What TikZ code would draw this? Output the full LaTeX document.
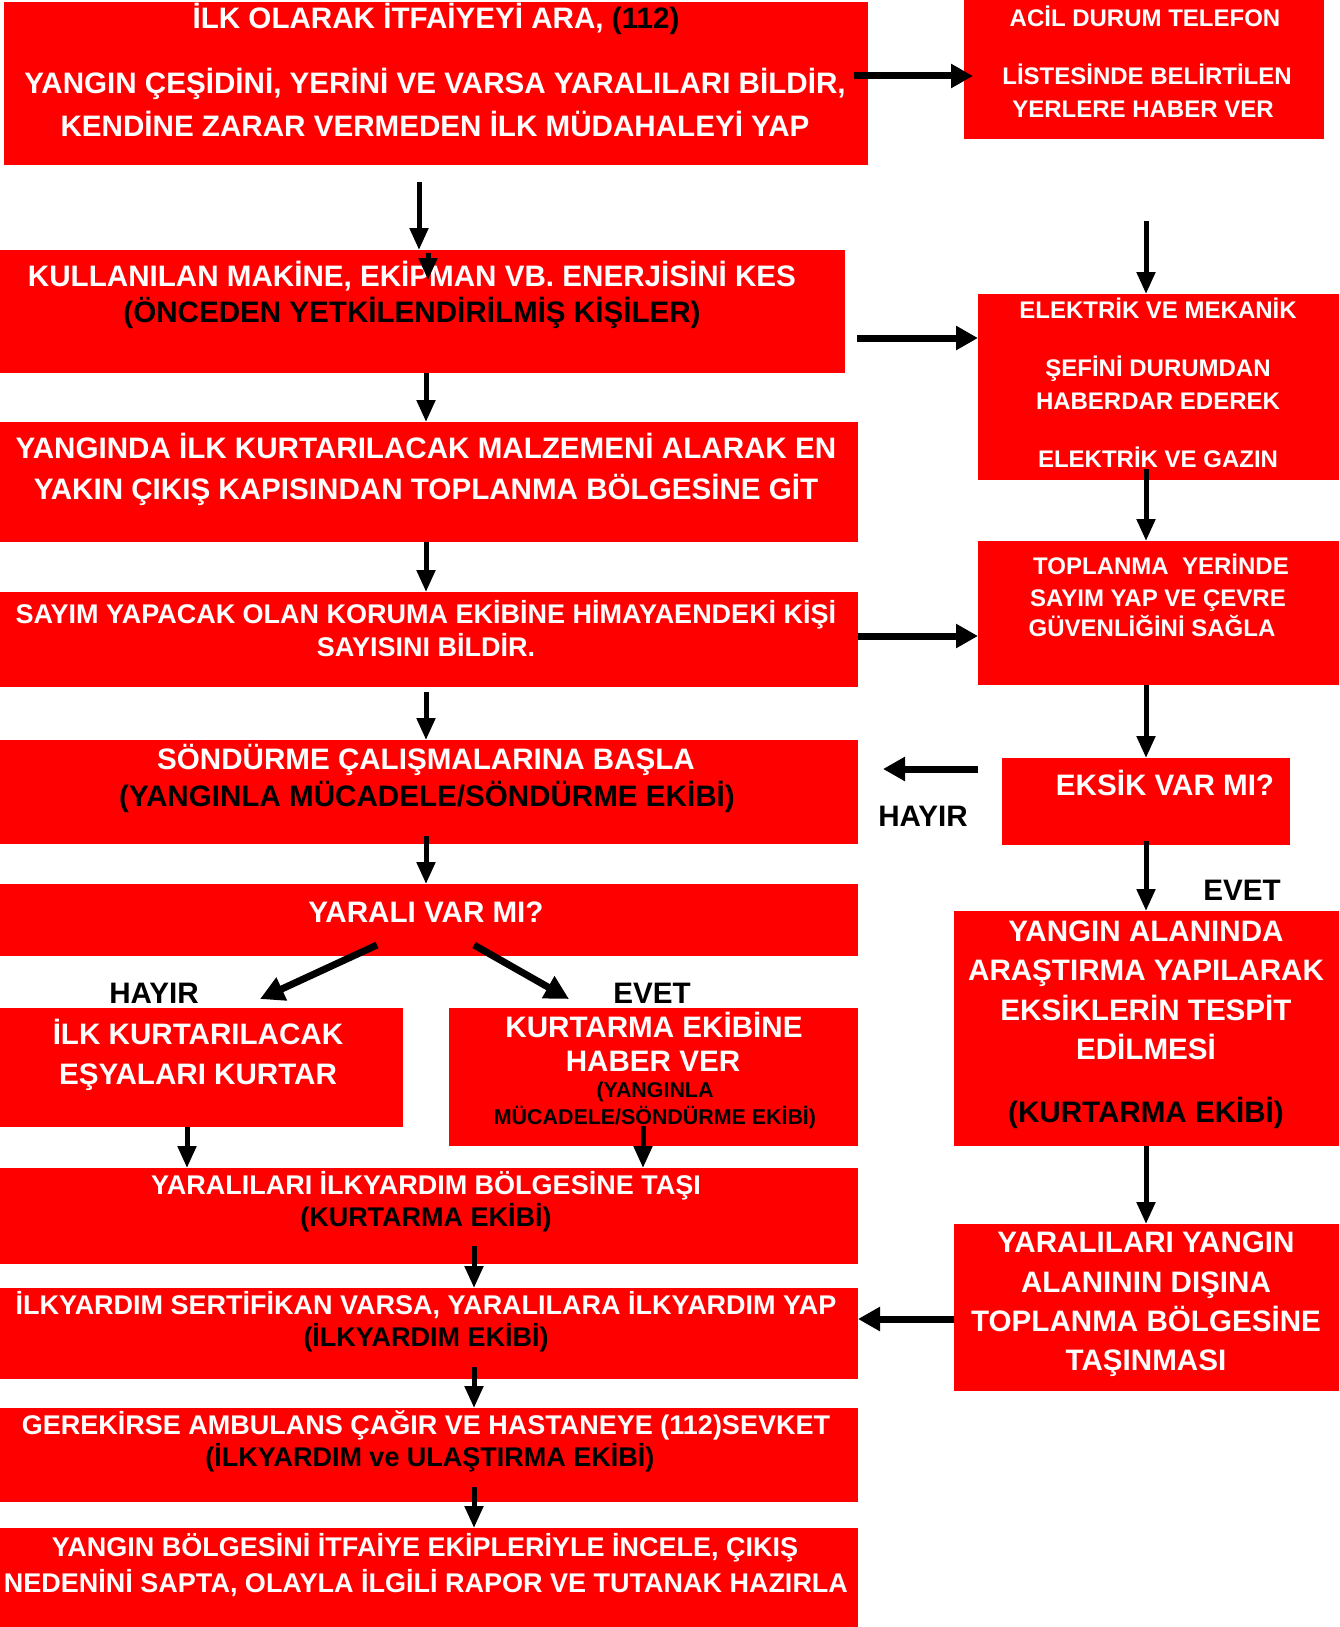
\documentclass[tikz,border=0pt]{standalone}
\usepackage{fontspec}
\setmainfont{Liberation Sans}
\usetikzlibrary{arrows.meta,fit}

\definecolor{boxred}{HTML}{FF0000}

% font sizes (1px = 0.5pt)
\newcommand{\fbig}{\fontsize{14.8}{17}\selectfont}
\newcommand{\fmid}{\fontsize{13.5}{16}\selectfont}
\newcommand{\fsml}{\fontsize{12}{14}\selectfont}
\newcommand{\ftny}{\fontsize{10.7}{13}\selectfont}

\begin{document}
\begin{tikzpicture}[x=0.5pt, y=-0.5pt,
    box/.style={fill=boxred, inner sep=0pt, outer sep=0pt},
    txt/.style={anchor=base, inner sep=0pt, text=white, font=\bfseries\fbig},
    blk/.style={txt, text=black},
    mid/.style={font=\bfseries\fmid},
    sml/.style={font=\bfseries\fsml},
    tny/.style={font=\bfseries\ftny},
    varr/.style={-{Triangle[width=9pt,length=11pt]}, line width=2.5pt},
    harr/.style={-{Triangle[width=11.5pt,length=11pt]}, line width=3.5pt},
    darr/.style={-{Triangle[width=12pt,length=12pt]}, line width=3.5pt}]

\useasboundingbox (0,0) rectangle (1339,1627);

% boxes, right side
\node[box, fit={(4,2) (868,165)}] (ara) {};
\node[box, fit={(964,0) (1324,139)}] (acil) {};
\node[box, fit={(978,294) (1339,480)}] (sef) {};
\node[box, fit={(978,541) (1339,685)}] (toplan) {};
\node[box, fit={(1002,758) (1290,845)}] (eksik) {};
\node[box, fit={(954,911) (1339,1146)}] (arastir) {};
\node[box, fit={(954,1224) (1339,1391)}] (tasin) {};

% boxes, left column
\node[box, fit={(0,250) (845,373)}] (kes) {};
\node[box, fit={(0,422) (858,542)}] (malzeme) {};
\node[box, fit={(0,592) (858,687)}] (sayim) {};
\node[box, fit={(0,740) (858,844)}] (sondur) {};
\node[box, fit={(0,884) (858,956)}] (yarali) {};
\node[box, fit={(0,1008) (403,1127)}] (esya) {};
\node[box, fit={(449,1008) (858,1146)}] (haber) {};
\node[box, fit={(0,1168) (858,1264)}] (bolge) {};
\node[box, fit={(0,1288) (858,1379)}] (ilkyardim) {};
\node[box, fit={(0,1408) (858,1502)}] (ambulans) {};
\node[box, fit={(0,1528) (858,1627)}] (incele) {};

% texts
\node[txt] (ara-1) at (436,29) {İLK OLARAK İTFAİYEYİ ARA, \textcolor{black}{(112)}};
\node[txt] (ara-2) at (435,94) {YANGIN ÇEŞİDİNİ, YERİNİ VE VARSA YARALILARI BİLDİR,};
\node[txt] (ara-3) at (435,136) {KENDİNE ZARAR VERMEDEN İLK MÜDAHALEYİ YAP};

\node[txt, sml] (acil-1) at (1145,27) {ACİL DURUM TELEFON};
\node[txt, sml] (acil-2) at (1147,85) {LİSTESİNDE BELİRTİLEN};
\node[txt, sml] (acil-3) at (1143,118) {YERLERE HABER VER};

\node[txt] (kes-1) at (412,286) {KULLANILAN MAKİNE, EKİPMAN VB. ENERJİSİNİ KES};
\node[blk] (kes-2) at (412,322) {(ÖNCEDEN YETKİLENDİRİLMİŞ KİŞİLER)};

\node[txt, sml] (sef-1) at (1158,318) {ELEKTRİK VE MEKANİK};
\node[txt, sml] (sef-2) at (1158,376) {ŞEFİNİ DURUMDAN};
\node[txt, sml] (sef-3) at (1158,409) {HABERDAR EDEREK};
\node[txt, sml] (sef-4) at (1158,467) {ELEKTRİK VE GAZIN};

\node[txt, sml] (toplan-1) at (1161,574) {TOPLANMA\ \ YERİNDE};
\node[txt, sml] (toplan-2) at (1158,606) {SAYIM YAP VE ÇEVRE};
\node[txt, sml] (toplan-3) at (1152,636) {GÜVENLİĞİNİ SAĞLA};

\node[txt] (eksik-1) at (1165,795) {EKSİK VAR MI?};
\node[blk] (hayir-r) at (923,826) {HAYIR};
\node[blk] (evet-r) at (1242,900) {EVET};

\node[txt] (arastir-1) at (1146,941) {YANGIN ALANINDA};
\node[txt] (arastir-2) at (1146,980) {ARAŞTIRMA YAPILARAK};
\node[txt] (arastir-3) at (1146,1020) {EKSİKLERİN TESPİT};
\node[txt] (arastir-4) at (1146,1059) {EDİLMESİ};
\node[blk] (arastir-5) at (1146,1122) {(KURTARMA EKİBİ)};

\node[txt] (tasin-1) at (1146,1252) {YARALILARI YANGIN};
\node[txt] (tasin-2) at (1146,1292) {ALANININ DIŞINA};
\node[txt] (tasin-3) at (1146,1331) {TOPLANMA BÖLGESİNE};
\node[txt] (tasin-4) at (1146,1370) {TAŞINMASI};

\node[txt] (malzeme-1) at (426,458) {YANGINDA İLK KURTARILACAK MALZEMENİ ALARAK EN};
\node[txt] (malzeme-2) at (426,499) {YAKIN ÇIKIŞ KAPISINDAN TOPLANMA BÖLGESİNE GİT};

\node[txt, mid] (sayim-1) at (426,623) {SAYIM YAPACAK OLAN KORUMA EKİBİNE HİMAYAENDEKİ KİŞİ};
\node[txt, mid] (sayim-2) at (426,656) {SAYISINI BİLDİR.};

\node[txt] (sondur-1) at (426,769) {SÖNDÜRME ÇALIŞMALARINA BAŞLA};
\node[blk] (sondur-2) at (427,806) {(YANGINLA MÜCADELE/SÖNDÜRME EKİBİ)};

\node[txt] (yarali-1) at (426,922) {YARALI VAR MI?};
\node[blk] (hayir-l) at (154,1003) {HAYIR};
\node[blk] (evet-l) at (652,1003) {EVET};

\node[txt] (esya-1) at (198,1044) {İLK KURTARILACAK};
\node[txt] (esya-2) at (198,1084) {EŞYALARI KURTAR};

\node[txt] (haber-1) at (654,1037) {KURTARMA EKİBİNE};
\node[txt] (haber-2) at (653,1071) {HABER VER};
\node[blk, tny] (haber-3) at (655,1097) {(YANGINLA};
\node[blk, tny] (haber-4) at (655,1124) {MÜCADELE/SÖNDÜRME EKİBİ)};

\node[txt, mid] (bolge-1) at (426,1194) {YARALILARI İLKYARDIM BÖLGESİNE TAŞI};
\node[blk, mid] (bolge-2) at (426,1226) {(KURTARMA EKİBİ)};

\node[txt, mid] (ilkyardim-1) at (426,1314) {İLKYARDIM SERTİFİKAN VARSA, YARALILARA İLKYARDIM YAP};
\node[blk, mid] (ilkyardim-2) at (426,1346) {(İLKYARDIM EKİBİ)};

\node[txt, mid] (ambulans-1) at (426,1434) {GEREKİRSE AMBULANS ÇAĞIR VE HASTANEYE (112)SEVKET};
\node[blk, mid] (ambulans-2) at (430,1466) {(İLKYARDIM ve ULAŞTIRMA EKİBİ)};

\node[txt, mid] (incele-1) at (425,1556) {YANGIN BÖLGESİNİ İTFAİYE EKİPLERİYLE İNCELE, ÇIKIŞ};
\node[txt, mid] (incele-2) at (426,1592) {NEDENİNİ SAPTA, OLAYLA İLGİLİ RAPOR VE TUTANAK HAZIRLA};

% arrows, left column
\draw[varr, shorten <=8.5pt] (ara.south -| 419,0) -- (kes.north -| 419,0);
\draw[varr, shorten <=1.5pt] (kes.north -| 428,0) -- ++(0,30);
\draw[varr] (kes.south -| 426,0) -- (malzeme.north -| 426,0);
\draw[varr] (malzeme.south -| 426,0) -- (sayim.north -| 426,0);
\draw[varr, shorten <=2.5pt] (sayim.south -| 426,0) -- (sondur.north -| 426,0);
\draw[varr, shorten <=-4pt] (sondur.south -| 426,0) -- (yarali.north -| 426,0);
\draw[darr] ([xshift=-26pt, yshift=5.5pt]yarali.south) -- ([xshift=29.25pt, yshift=4.5pt]esya.north);
\draw[darr] ([xshift=22.5pt, yshift=5.5pt]yarali.south) -- ([xshift=-42.25pt, yshift=4.5pt]haber.north);
\draw[varr] (esya.south -| 187,0) -- (bolge.north -| 187,0);
\draw[varr, shorten <=-10pt] (haber.south -| 643,0) -- (bolge.north -| 643,0);
\draw[varr, shorten <=-9pt] (bolge.south -| 474,0) -- (ilkyardim.north -| 474,0);
\draw[varr, shorten <=-6pt] (ilkyardim.south -| 474,0) -- (ambulans.north -| 474,0);
\draw[varr, shorten <=-7.5pt] (ambulans.south -| 474,0) -- (incele.north -| 474,0);

% arrows, right column
\coordinate (seftop) at (1146,221);
\draw[varr] (seftop) -- (sef.north -| seftop);
\draw[varr, shorten <=-5.5pt] (sef.south -| 1146,0) -- (toplan.north -| 1146,0);
\draw[varr] (toplan.south -| 1146,0) -- (eksik.north -| 1146,0);
\draw[varr, shorten <=-2pt] (eksik.south -| 1146,0) -- (arastir.north -| 1146,0);
\draw[varr] (arastir.south -| 1146,0) -- (tasin.north -| 1146,0);

% arrows across
\draw[harr, shorten <=-7pt, shorten >=-4.5pt] (ara.east |- 0,76) -- (acil.west |- 0,76);
\draw[harr, shorten <=6pt] (kes.east |- 0,338) -- (sef.west |- 0,338);
\draw[harr] (sayim.east |- 0,636) -- (toplan.west |- 0,636);
\draw[harr, shorten <=12pt, shorten >=12.5pt] (eksik.west |- 0,769) -- (sondur.east |- 0,769);
\draw[harr] (tasin.west |- 0,1319) -- (ilkyardim.east |- 0,1319);

\end{tikzpicture}
\end{document}
